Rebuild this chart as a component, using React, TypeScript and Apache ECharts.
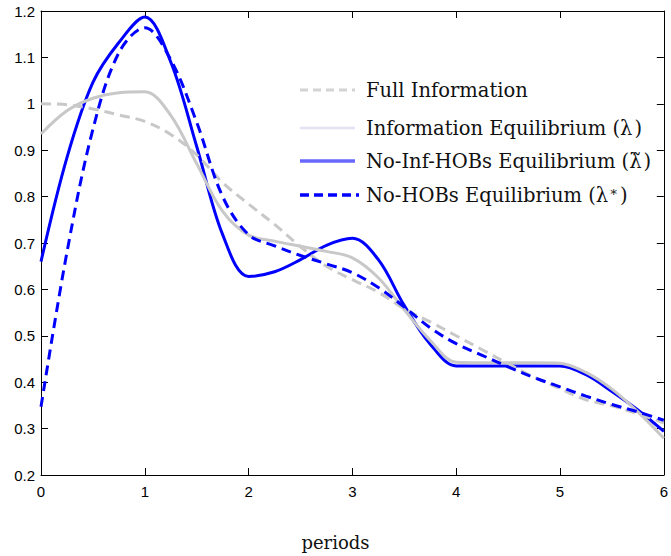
import React, { useEffect, useRef } from "react";
import * as echarts from "echarts";

// periods (x positions of read-off points)
const periods = [
  0, 0.25, 0.5, 0.75, 1, 1.25, 1.5, 1.75, 2, 2.25, 2.5, 2.75, 3, 3.25, 3.5, 3.75,
  4, 4.25, 4.5, 4.75, 5, 5.25, 5.5, 5.75, 6,
];

const fullInformation = [
  1.0, 0.998, 0.989, 0.976, 0.962, 0.934, 0.89, 0.83, 0.784, 0.74, 0.692, 0.65,
  0.621, 0.594, 0.558, 0.53, 0.5, 0.47, 0.44, 0.411, 0.386, 0.362, 0.349, 0.332, 0.312,
];

const informationEq = [
  0.935, 0.985, 1.012, 1.024, 1.026, 0.975, 0.871, 0.768, 0.717, 0.704, 0.693,
  0.682, 0.668, 0.625, 0.556, 0.49, 0.443, 0.442, 0.442, 0.442, 0.441, 0.421,
  0.385, 0.336, 0.279,
];

const noInfHOBsEq = [
  0.66, 0.884, 1.046, 1.132, 1.187, 1.09, 0.908, 0.718, 0.628, 0.638, 0.664,
  0.695, 0.71, 0.664, 0.565, 0.482, 0.435, 0.435, 0.435, 0.435, 0.435, 0.416,
  0.38, 0.34, 0.294,
];

const noHOBsEq = [
  0.347, 0.68, 0.945, 1.11, 1.164, 1.095, 0.96, 0.8, 0.718, 0.694, 0.673, 0.655,
  0.636, 0.604, 0.562, 0.517, 0.483, 0.458, 0.433, 0.41, 0.39, 0.37, 0.352,
  0.336, 0.318,
];

const legendLabels = [
  "Full Information",
  "Information Equilibrium (λ\u200a)",
  "No-Inf-HOBs Equilibrium (λ̃\u200a)",
  "No-HOBs Equilibrium (λ",
];

const xTicks = [0, 1, 2, 3, 4, 5, 6];
const yMin = 0.2;
const yMax = 1.2;
const yStep = 0.1;

const GRAY = "#c8c8c8";
const BLUE = "#0000ff";
const SERIF = "DejaVu Serif";
const SANS = "Liberation Sans";

function zip(xs: number[], ys: number[]) {
  return xs.map((x, i) => [x, ys[i]]);
}

export default function App() {
  const ref = useRef<HTMLDivElement>(null);

  useEffect(() => {
    document.body.style.margin = "0";
    if (!ref.current) return;
    const chart = echarts.init(ref.current, null, { renderer: "svg" });

    const axisCommon = {
      axisLine: { show: true, onZero: false, lineStyle: { color: "#000", width: 1 } },
      axisTick: { show: true, inside: true, length: 7, lineStyle: { color: "#000", width: 1 } },
      splitLine: { show: false },
    };

    const legendRowsY = [90, 128, 161, 195];
    const lineX0 = 300;
    const lineX1 = 355;
    const textX = 366;
    const FS = 19.5;

    const legendGraphics: any[] = [
      {
        type: "line",
        shape: { x1: lineX0, y1: legendRowsY[0], x2: lineX1, y2: legendRowsY[0] },
        style: { stroke: "#d4d4d4", lineWidth: 3, lineDash: [8, 5] },
      },
      {
        type: "line",
        shape: { x1: lineX0, y1: legendRowsY[1], x2: lineX1, y2: legendRowsY[1] },
        style: { stroke: "#e2e2f2", lineWidth: 2.5 },
      },
      {
        type: "line",
        shape: { x1: lineX0, y1: legendRowsY[2], x2: lineX1, y2: legendRowsY[2] },
        style: { stroke: "#6868ff", lineWidth: 3.5 },
      },
      {
        type: "line",
        shape: { x1: lineX0, y1: legendRowsY[3], x2: lineX1 + 4, y2: legendRowsY[3] },
        style: { stroke: BLUE, lineWidth: 3.5, lineDash: [9, 5] },
      },
    ];
    legendLabels.forEach((label, i) => {
      const isLast = i === 3;
      legendGraphics.push({
        type: "text",
        x: textX,
        y: legendRowsY[i],
        style: isLast
          ? {
              text: "{t|" + label + "}{s|∗}{t|\u200a)}",
              rich: {
                t: { fontFamily: SERIF, fontSize: FS, fill: "#111" },
                s: { fontFamily: SERIF, fontSize: 13, fill: "#111", verticalAlign: "top", padding: [0, 0, 8, 1] },
              },
              verticalAlign: "middle",
              align: "left",
            }
          : {
              text: label,
              fontFamily: SERIF,
              fontSize: FS,
              fill: "#111",
              verticalAlign: "middle",
              align: "left",
            },
      });
    });

    chart.setOption({
      animation: false,
      backgroundColor: "#fff",
      grid: { left: 41, right: 2, top: 11, bottom: 81, containLabel: false },
      xAxis: [
        {
          type: "value",
          position: "bottom",
          min: xTicks[0],
          max: xTicks[xTicks.length - 1],
          interval: 1,
          ...axisCommon,
          axisLabel: { show: true, fontFamily: SANS, fontSize: 15, color: "#000", margin: 9 },
        },
        {
          type: "value",
          position: "top",
          min: xTicks[0],
          max: xTicks[xTicks.length - 1],
          interval: 1,
          ...axisCommon,
          axisLabel: { show: false },
        },
      ],
      yAxis: [
        {
          type: "value",
          position: "left",
          min: yMin,
          max: yMax,
          interval: yStep,
          ...axisCommon,
          axisLabel: {
            show: true,
            fontFamily: SANS,
            fontSize: 15,
            color: "#000",
            margin: 6,
            formatter: (v: number) => String(parseFloat(v.toFixed(1))),
          },
        },
        {
          type: "value",
          position: "right",
          min: yMin,
          max: yMax,
          interval: yStep,
          ...axisCommon,
          axisLabel: { show: false },
        },
      ],
      series: [
        {
          name: "No-Inf-HOBs Equilibrium",
          type: "line",
          data: zip(periods, noInfHOBsEq),
          smooth: 0.35,
          showSymbol: false,
          lineStyle: { color: BLUE, width: 3 },
          z: 2,
        },
        {
          name: "Information Equilibrium",
          type: "line",
          data: zip(periods, informationEq),
          smooth: 0.35,
          showSymbol: false,
          lineStyle: { color: GRAY, width: 3 },
          z: 3,
        },
        {
          name: "Full Information",
          type: "line",
          data: zip(periods, fullInformation),
          smooth: 0.35,
          showSymbol: false,
          lineStyle: { color: GRAY, width: 3, type: [10, 6] },
          z: 4,
        },
        {
          name: "No-HOBs Equilibrium",
          type: "line",
          data: zip(periods, noHOBsEq),
          smooth: 0.35,
          showSymbol: false,
          lineStyle: { color: BLUE, width: 3, type: [10, 6] },
          z: 5,
        },
      ],
      graphic: [
        ...legendGraphics,
        {
          type: "text",
          x: 335.5,
          y: 542,
          style: {
            text: "periods",
            fontFamily: SERIF,
            fontSize: 18,
            fill: "#111",
            align: "center",
            verticalAlign: "middle",
          },
        },
      ],
    });

    return () => chart.dispose();
  }, []);

  return <div ref={ref} style={{ width: 671, height: 556 }} />;
}
